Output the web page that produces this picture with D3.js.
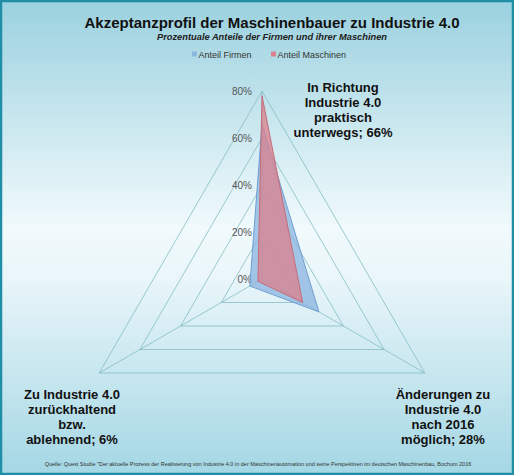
<!DOCTYPE html>
<html>
<head>
<meta charset="utf-8">
<script src="https://cdn.jsdelivr.net/npm/d3@7"></script>
<style>
  html, body { margin: 0; padding: 0; background: #fff; }
  svg { display: block; font-family: "Liberation Sans", Arial, sans-serif; }
</style>
</head>
<body>
<svg id="chart" width="514" height="475"></svg>
<script>
// Achsen (im Uhrzeigersinn ab oben)
var categories = [
  ['In Richtung', 'Industrie 4.0', 'praktisch', 'unterwegs; 66%'],
  ['Änderungen zu', 'Industrie 4.0', 'nach 2016', 'möglich; 28%'],
  ['Zu Industrie 4.0', 'zurückhaltend', 'bzw.', 'ablehnend; 6%']
];
var seriesNames = ['Anteil Firmen', 'Anteil Maschinen'];
var firmen = [0.66, 0.28, 0.06];
var maschinen = [0.78, 0.20, 0.02];
var ticks = [0, 0.2, 0.4, 0.6, 0.8];

var svg = d3.select('#chart');
var W = 514, H = 475;
var cx = 262, cy = 279;

// Hintergrund mit Verlauf
var defs = svg.append('defs');
var bg = defs.append('linearGradient').attr('id', 'bg')
  .attr('x1', 0).attr('y1', 0).attr('x2', 0).attr('y2', 1);
bg.append('stop').attr('offset', '0%').attr('stop-color', '#9bd1df');
bg.append('stop').attr('offset', '48%').attr('stop-color', '#f1fafc');
bg.append('stop').attr('offset', '58%').attr('stop-color', '#eaf6fa');
bg.append('stop').attr('offset', '100%').attr('stop-color', '#a4d7e4');

svg.append('rect').attr('x', 1).attr('y', 1).attr('width', W - 2).attr('height', H - 2)
  .attr('fill', 'url(#bg)').attr('stroke', '#1f8ea6').attr('stroke-width', 2.5);

var r = d3.scaleLinear().domain([0, 0.8]).range([0, 188]);
var angle = d3.scaleLinear().domain([0, categories.length]).range([0, 2 * Math.PI]);

function point(i, v) {
  var a = angle(i);
  return [cx + r(v) * Math.sin(a), cy - r(v) * Math.cos(a)];
}

var line = d3.line();

// Gitter
var grid = svg.append('g');
ticks.slice(1).forEach(function (t) {
  var pts = d3.range(categories.length).map(function (i) { return point(i, t); });
  grid.append('path').attr('d', line(pts) + 'Z')
    .attr('fill', 'none').attr('stroke', '#86bcc4').attr('stroke-width', 0.8);
});
d3.range(categories.length).forEach(function (i) {
  var p = point(i, 0.8);
  grid.append('line').attr('x1', cx).attr('y1', cy).attr('x2', p[0]).attr('y2', p[1])
    .attr('stroke', '#86bcc4').attr('stroke-width', 0.8);
});

// Achsenbeschriftung
svg.append('g').selectAll('text').data(ticks).join('text')
  .attr('x', cx - 10).attr('y', function (d) { return cy - r(d) + 3.5; })
  .attr('text-anchor', 'end').attr('font-size', 10).attr('fill', '#555')
  .text(function (d) { return Math.round(d * 100) + '%'; });

// Serien
var series = [
  { values: firmen, fill: '#8db6e0', stroke: '#6f9fd2' },
  { values: maschinen, fill: '#d9838f', stroke: '#c56c78' }
];
series.forEach(function (s) {
  var pts = s.values.map(function (v, i) { return point(i, v); });
  svg.append('path').attr('d', line(pts) + 'Z')
    .attr('fill', s.fill).attr('fill-opacity', 0.78)
    .attr('stroke', s.stroke).attr('stroke-width', 1);
});

// Kategorien
var labelPos = [[343, 92], [443, 399], [72, 399]];
categories.forEach(function (c, i) {
  var t = svg.append('text').attr('text-anchor', 'middle')
    .attr('font-size', 13).attr('font-weight', 'bold').attr('fill', '#111');
  c.forEach(function (ln, k) {
    t.append('tspan').attr('x', labelPos[i][0]).attr('y', labelPos[i][1] + k * 15).text(ln);
  });
});

// Titel
svg.append('text').attr('x', 272).attr('y', 28).attr('text-anchor', 'middle')
  .attr('font-size', 15).attr('font-weight', 'bold').attr('fill', '#111')
  .text('Akzeptanzprofil der Maschinenbauer zu Industrie 4.0');
svg.append('text').attr('x', 272).attr('y', 39.5).attr('text-anchor', 'middle')
  .attr('font-size', 9.3).attr('font-weight', 'bold').attr('font-style', 'italic').attr('fill', '#222')
  .text('Prozentuale Anteile der Firmen  und ihrer Maschinen');

// Legende
var legendX = [192, 271];
var legendCol = ['#8db6e0', '#d9838f'];
seriesNames.forEach(function (n, i) {
  svg.append('rect').attr('x', legendX[i]).attr('y', 51.5).attr('width', 5).attr('height', 5)
    .attr('fill', legendCol[i]);
  svg.append('text').attr('x', legendX[i] + 6.5).attr('y', 57.5).attr('font-size', 9)
    .attr('fill', '#333').text(n);
});

// Quelle
svg.append('text').attr('x', 258).attr('y', 465.5).attr('text-anchor', 'middle')
  .attr('font-size', 5.5).attr('fill', '#333')
  .text('Quelle:  Quest Studie "Der aktuelle  Prozess der Realisierung  von Industrie  4.0 in der Maschinenautomation  und seine Perspektiven im deutschen  Maschinenbau,  Bochum  2016');
</script>
</body>
</html>
